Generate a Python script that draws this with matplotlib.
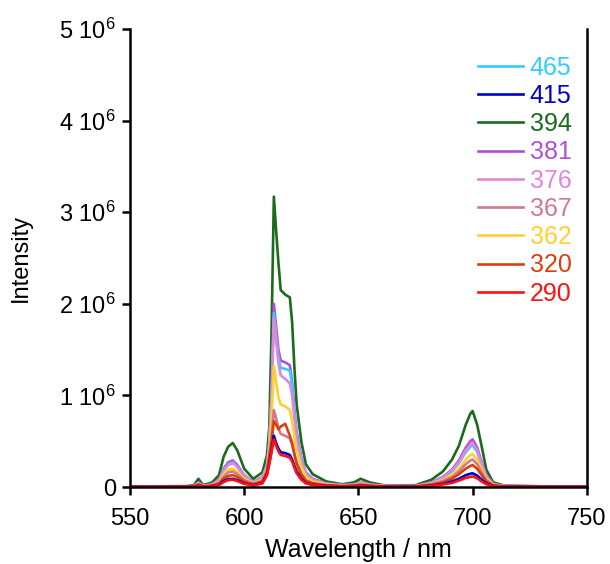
import numpy as np
import matplotlib.pyplot as plt

plt.rcParams['font.family'] = ['Liberation Sans', 'DejaVu Sans']
plt.rcParams['mathtext.default'] = 'regular'

# wavelength grid (nm) and intensities (x1e6)
wl = [550, 575, 578, 580, 582, 586, 589, 591, 593, 595, 597, 600, 604, 608, 610, 611, 612, 613, 614, 615,
      616, 618, 620, 621, 622, 623, 625, 627, 630, 636, 643, 648, 651, 655, 662, 675, 682, 687, 691, 694,
      697, 699, 700, 702, 704, 706, 709, 714, 730, 750]

i465 = [.003, .005, .01, .045, .01, .03, .07, .18, .25, .27, .22, .12, .05, .1, .24, .45, .95, 1.9, 1.65, 1.42,
        1.3, 1.29, 1.27, 1.1, .8, .56, .3, .15, .08, .035, .02, .025, .045, .025, .01, .01, .045, .1, .17, .26,
        .38, .44, .46, .38, .24, .11, .03, .01, .005, .003]
i415 = [.002, .003, .005, .02, .005, .01, .025, .065, .085, .09, .075, .04, .02, .045, .14, .26, .4, .56, .48, .42,
        .38, .37, .35, .3, .23, .17, .09, .045, .025, .012, .007, .01, .017, .01, .004, .004, .016, .035, .06, .09,
        .13, .145, .15, .125, .08, .04, .012, .004, .002, .002]
i394 = [.005, .01, .02, .09, .02, .05, .13, .33, .44, .48, .4, .2, .09, .16, .35, .65, 1.7, 3.17, 2.8, 2.45,
        2.15, 2.1, 2.07, 1.8, 1.3, .9, .5, .25, .14, .06, .03, .05, .09, .05, .015, .02, .08, .17, .3, .45,
        .68, .8, .83, .68, .44, .19, .05, .015, .008, .005]
i381 = [.003, .006, .01, .05, .01, .03, .08, .2, .27, .29, .24, .13, .055, .11, .25, .5, 1.05, 2.0, 1.75, 1.5,
        1.38, 1.36, 1.33, 1.15, .85, .6, .32, .16, .09, .04, .02, .03, .05, .03, .01, .012, .05, .11, .19, .29,
        .43, .5, .52, .43, .27, .13, .03, .01, .005, .003]
i376 = [.003, .005, .01, .045, .01, .03, .075, .18, .24, .26, .22, .12, .05, .1, .23, .47, .98, 1.85, 1.6, 1.35,
        1.22, 1.18, 1.13, 1.0, .75, .53, .29, .15, .08, .035, .02, .025, .045, .025, .01, .01, .045, .1, .18, .27,
        .4, .46, .48, .4, .25, .12, .03, .01, .005, .003]
i367 = [.002, .004, .007, .03, .007, .018, .045, .11, .16, .17, .14, .075, .035, .07, .18, .35, .55, .84, .75, .64,
        .58, .56, .53, .46, .35, .25, .14, .07, .04, .02, .012, .016, .028, .016, .006, .007, .03, .065, .11, .17,
        .25, .29, .30, .25, .16, .075, .02, .007, .003, .002]
i362 = [.002, .004, .008, .035, .008, .02, .05, .14, .19, .2, .165, .09, .04, .08, .2, .4, .75, 1.32, 1.15, .98,
        .9, .88, .84, .72, .55, .4, .22, .11, .06, .027, .015, .02, .035, .02, .008, .008, .035, .075, .13, .2,
        .3, .35, .36, .3, .19, .09, .025, .008, .004, .002]
i320 = [.002, .003, .006, .025, .006, .015, .035, .09, .12, .13, .11, .06, .03, .06, .17, .33, .5, .72, .68, .63,
        .66, .69, .56, .48, .36, .26, .14, .07, .04, .018, .01, .014, .024, .014, .005, .006, .025, .05, .09, .14,
        .2, .23, .24, .2, .13, .06, .017, .006, .003, .002]
i290 = [.002, .003, .005, .02, .005, .01, .022, .055, .075, .08, .065, .035, .018, .04, .13, .25, .38, .52, .45, .39,
        .35, .34, .32, .28, .21, .15, .08, .04, .022, .011, .006, .009, .015, .009, .004, .004, .013, .028, .045, .07,
        .1, .11, .115, .095, .06, .03, .01, .004, .002, .002]

labels = ['465', '415', '394', '381', '376', '367', '362', '320', '290']
series = [i465, i415, i394, i381, i376, i367, i362, i320, i290]
colors = ['#33CCFF', '#0000CC', '#1A6B1A', '#B050D8', '#DD88DD', '#D07A8A', '#FFD030', '#D84010', '#FF1010']

fig = plt.figure(figsize=(6.1, 5.64), dpi=100)
ax = fig.add_axes([0.213, 0.1365, 0.749, 0.812])

# draw the weaker curves last so they sit on top, like the original
order = [2, 3, 0, 4, 6, 5, 7, 1, 8]
lines = {}
for k in order:
    l, = ax.plot(wl, np.array(series[k]) * 1e6, color=colors[k], lw=1.9, label=labels[k])
    lines[k] = l

ax.set_xlim(550, 750)
ax.set_ylim(0, 5e6)
ax.set_xticks([550, 600, 650, 700, 750])
ax.set_yticks([0, 1e6, 2e6, 3e6, 4e6, 5e6])
ax.set_yticklabels(['0'] + [f'{k} 10$^{{6}}$' for k in range(1, 6)])
ax.tick_params(labelsize=17, direction='out', length=6, width=1.8)
ax.tick_params(axis='x', pad=9)
ax.tick_params(axis='y', pad=4)
for s in ['left', 'bottom', 'right']:
    ax.spines[s].set_linewidth(1.8)
ax.spines['top'].set_visible(False)

ax.set_xlabel('Wavelength / nm', fontsize=18, labelpad=6)
ax.set_ylabel('Intensity', fontsize=17, labelpad=20)

leg = ax.legend([lines[k] for k in range(9)], labels, loc='upper right', bbox_to_anchor=(1.005, 0.98),
                frameon=False, fontsize=18, handlelength=1.8, handletextpad=0.25, labelspacing=0.17,
                borderpad=0.2)
for t, c in zip(leg.get_texts(), colors):
    t.set_color(c)

fig.savefig('out.png', dpi=100)
